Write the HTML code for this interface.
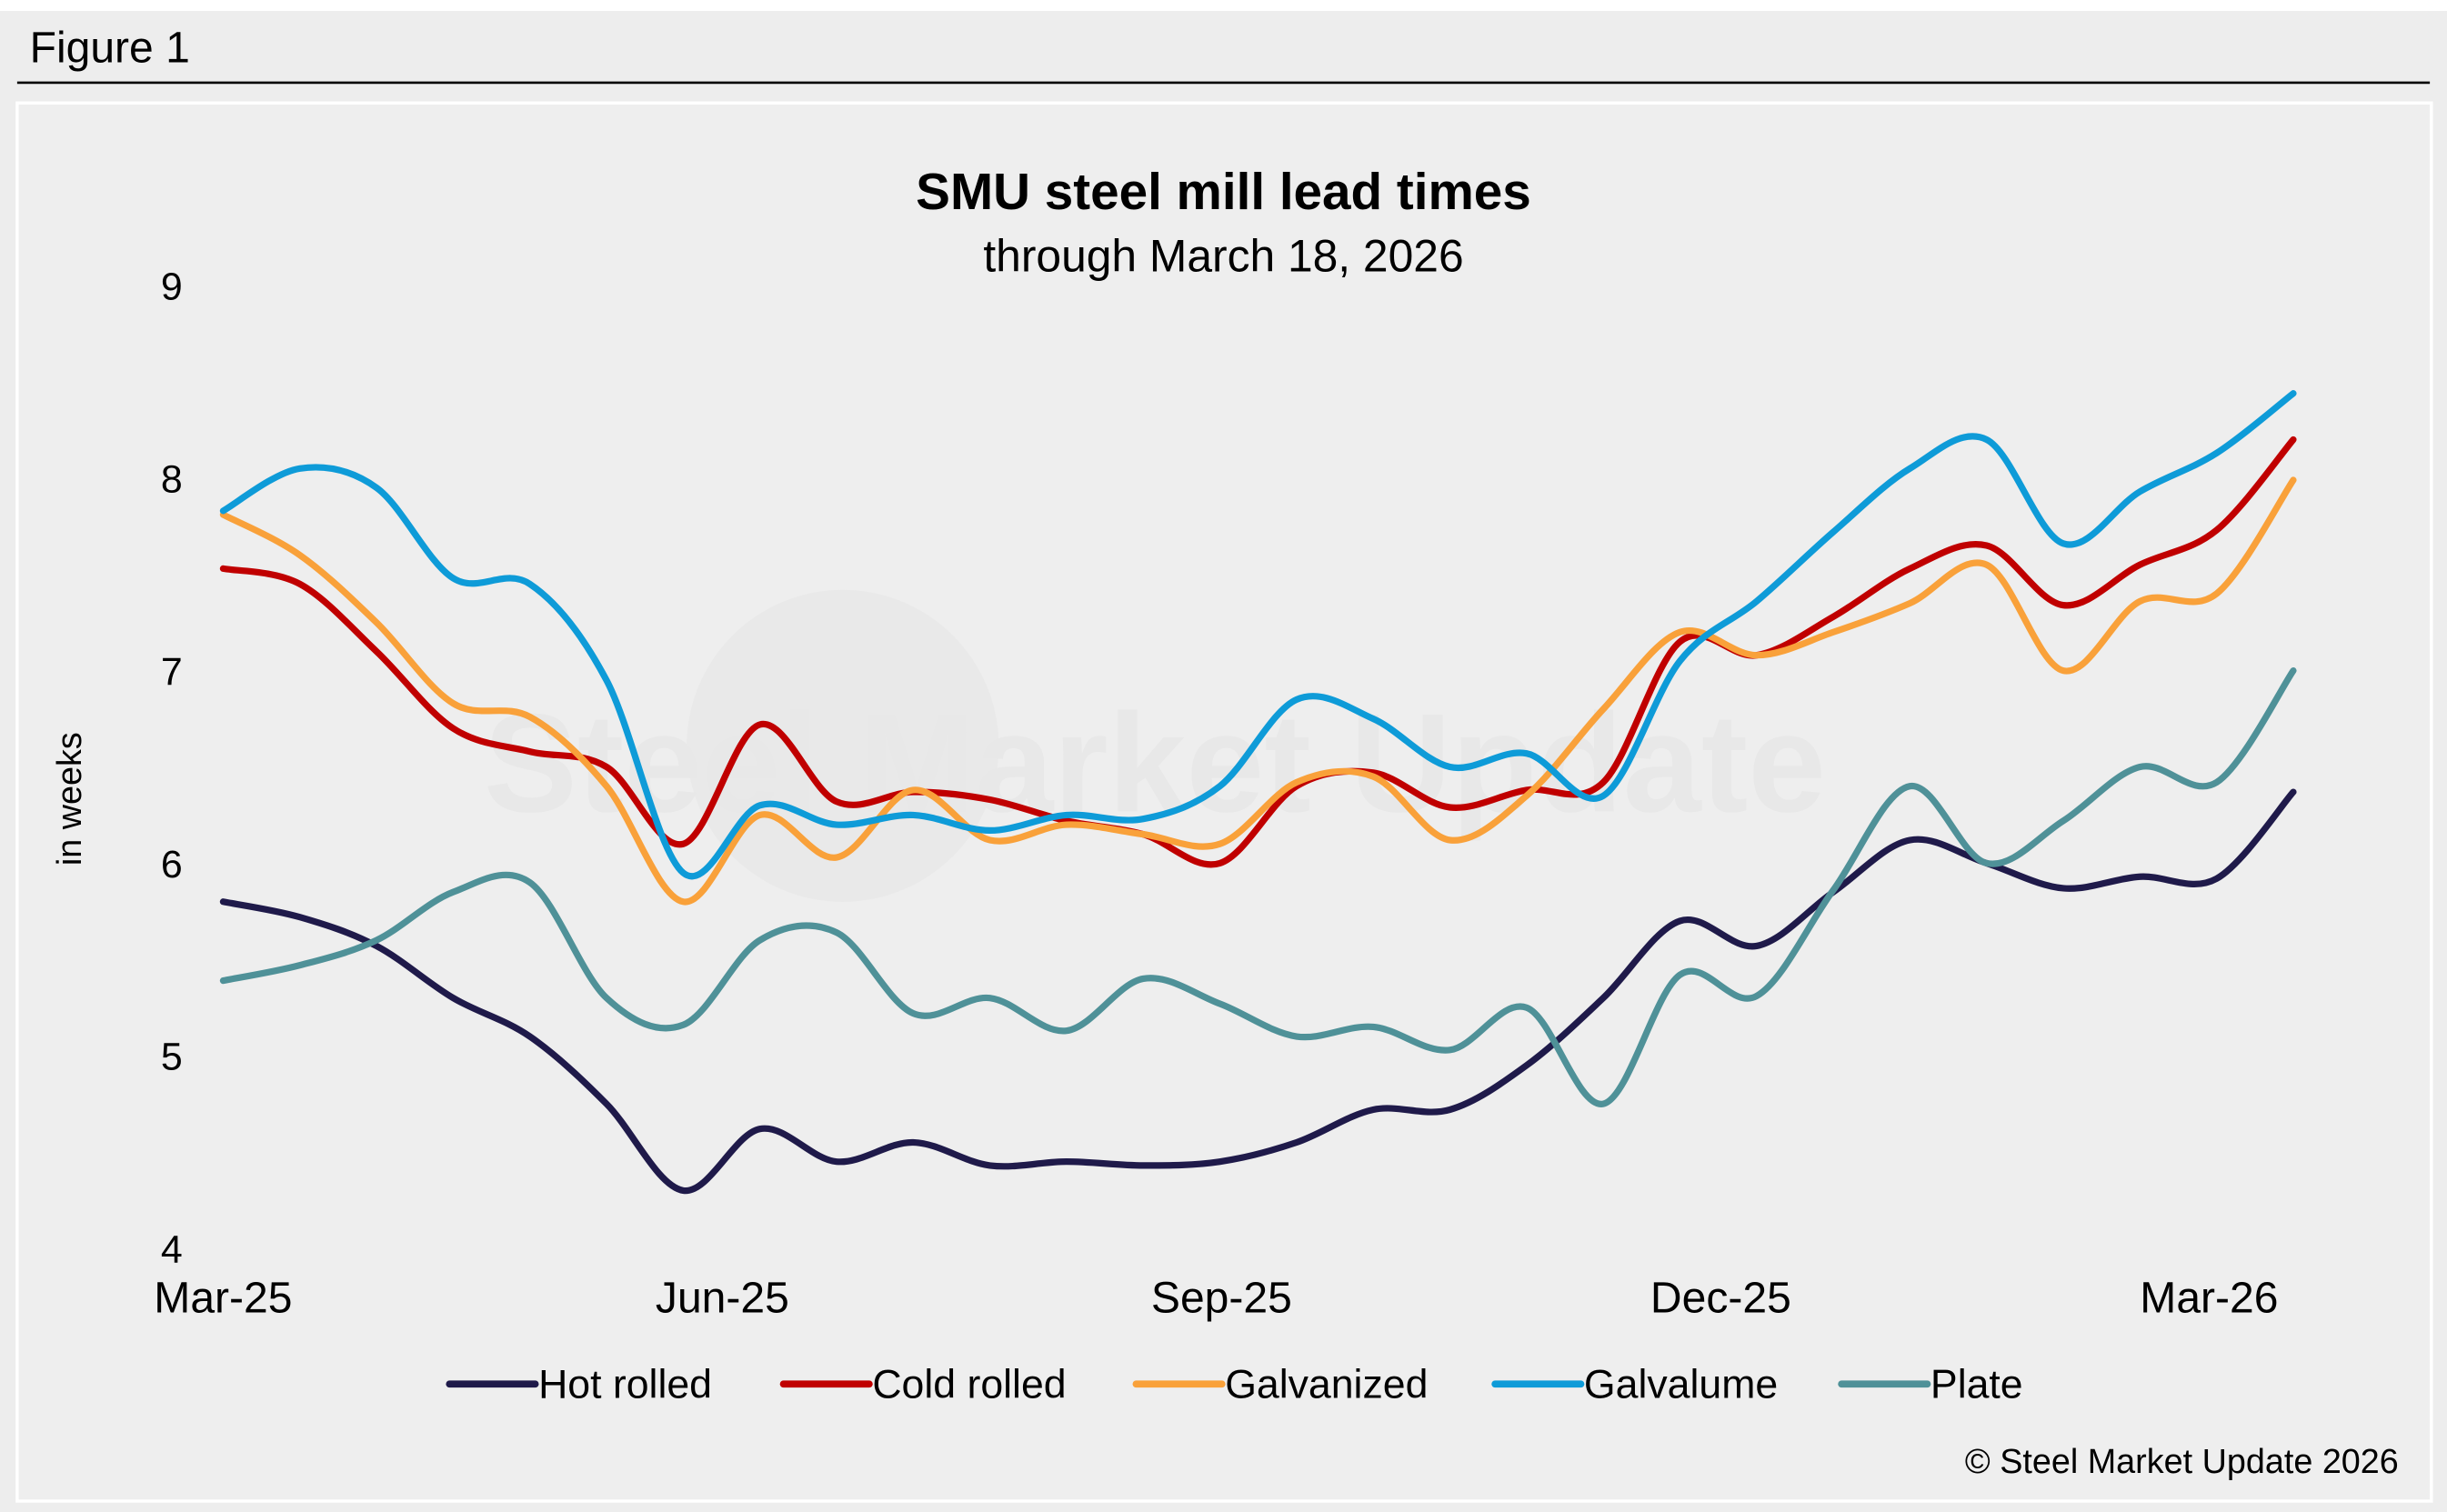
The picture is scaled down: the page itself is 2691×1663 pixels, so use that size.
<!DOCTYPE html>
<html><head><meta charset="utf-8">
<style>
html,body{margin:0;padding:0;background:#fff;}
svg{display:block;font-family:"Liberation Sans",Arial,sans-serif;}
</style></head>
<body>
<svg id="chart" width="2691" height="1663" viewBox="0 0 1568 969" preserveAspectRatio="none" xmlns="http://www.w3.org/2000/svg">
<rect x="0" y="0" width="1568" height="969" fill="#ffffff"/>
<rect x="0" y="7" width="1568" height="962" fill="#ededed"/>
<text x="19" y="40" font-size="28" fill="#000">Figure 1</text>
<line x1="11" y1="53" x2="1557" y2="53" stroke="#000" stroke-width="1.5"/>
<rect x="11" y="66" width="1547" height="896" fill="#eeeeee" stroke="#ffffff" stroke-width="2"/>
<g opacity="0.35">
<circle cx="540" cy="478" r="100" fill="#e2e2e2"/>
<text x="740" y="520" font-size="90" fill="#dddddd" text-anchor="middle" font-weight="bold">Steel Market Update</text>
</g>
<text x="784" y="134" font-size="33" font-weight="bold" text-anchor="middle" fill="#000">SMU steel mill lead times</text>
<text x="784" y="174" font-size="29" text-anchor="middle" fill="#000">through March 18, 2026</text>
<text transform="translate(52,512) rotate(-90)" font-size="22" text-anchor="middle" fill="#000">in weeks</text>
<g id="yticks"></g>
<g id="xticks"></g>
<g id="series"></g>
<g id="legend"></g>
<text x="1537" y="944" font-size="22" text-anchor="end" fill="#000">© Steel Market Update 2026</text>
</svg>
<script>
const tickLabelsX = ["Mar-25","Jun-25","Sep-25","Dec-25","Mar-26"];
const tickDaysX = [0,92,184,276,366];
const tickValuesY = [4,5,6,7,8,9];
const pointDays = Array.from({length:28},(_,i)=>i*14.13);
const seriesNames = ["Hot rolled","Cold rolled","Galvanized","Galvalume","Plate"];
const hotRolled = [5.8,5.72,5.57,5.3,5.1,4.75,4.3,4.62,4.45,4.55,4.43,4.45,4.43,4.45,4.55,4.72,4.72,4.95,5.3,5.7,5.57,5.85,6.12,6.0,5.87,5.93,5.92,6.37];
const coldRolled = [7.53,7.45,7.1,6.7,6.58,6.5,6.1,6.72,6.32,6.37,6.33,6.22,6.15,6.0,6.4,6.47,6.29,6.38,6.42,7.15,7.08,7.28,7.53,7.65,7.34,7.55,7.73,8.2];
const galvanized = [7.81,7.6,7.25,6.83,6.76,6.4,5.8,6.25,6.03,6.38,6.12,6.2,6.15,6.1,6.42,6.45,6.12,6.35,6.8,7.2,7.08,7.2,7.35,7.55,7.0,7.36,7.4,7.99];
const galvalume = [7.83,8.05,7.95,7.48,7.45,6.95,5.95,6.3,6.2,6.25,6.17,6.25,6.23,6.4,6.85,6.75,6.5,6.57,6.35,7.05,7.36,7.72,8.05,8.2,7.66,7.93,8.13,8.44];
const plate = [5.39,5.47,5.6,5.85,5.9,5.3,5.16,5.6,5.64,5.22,5.3,5.13,5.4,5.27,5.1,5.15,5.03,5.25,4.75,5.42,5.31,5.86,6.4,6.0,6.22,6.5,6.42,7.0];
const seriesData = [hotRolled,coldRolled,galvanized,galvalume,plate];
const colors = ["#1f1a4a","#c00000","#f9a13a","#0e9bd8","#4f9198"];
const slugs = ["hot-rolled","cold-rolled","galvanized","galvalume","plate"];

const NS="http://www.w3.org/2000/svg";
const x = d => 143 + d*3.477;
const y = v => 183 + (9-v)*123.4;
function mk(tag,attrs,parent){const e=document.createElementNS(NS,tag);for(const k in attrs)e.setAttribute(k,attrs[k]);parent.appendChild(e);return e;}

const yt=document.getElementById('yticks');
tickValuesY.forEach(v=>{
  const t=mk('text',{x:117,y:y(v)+9,'font-size':25,'text-anchor':'end',fill:'#000'},yt);
  
  
  t.textContent=v;
});
const xt=document.getElementById('xticks');
tickLabelsX.forEach((l,i)=>{
  const t=mk('text',{x:x(tickDaysX[i]),y:841,'font-size':28,'text-anchor':'middle',fill:'#000'},xt);
  
  
  t.textContent=l;
});

function smooth(pts){
  let d=`M${pts[0][0]},${pts[0][1]}`;
  for(let i=0;i<pts.length-1;i++){
    const p0=pts[Math.max(0,i-1)],p1=pts[i],p2=pts[i+1],p3=pts[Math.min(pts.length-1,i+2)];
    const c1x=p1[0]+(p2[0]-p0[0])/6,c1y=p1[1]+(p2[1]-p0[1])/6;
    const c2x=p2[0]-(p3[0]-p1[0])/6,c2y=p2[1]-(p3[1]-p1[1])/6;
    d+=` C${c1x},${c1y} ${c2x},${c2y} ${p2[0]},${p2[1]}`;
  }
  return d;
}
const sg=document.getElementById('series');
seriesData.forEach((arr,si)=>{
  const pts=arr.map((v,i)=>[x(pointDays[i]),y(v)]);
  const p=mk('path',{d:smooth(pts),fill:'none',stroke:colors[si],'stroke-width':4.2,'stroke-linejoin':'round','stroke-linecap':'round'},sg);
  
  
});
const lg=document.getElementById('legend');
const legX=[288,502,728,958,1180];
seriesNames.forEach((n,i)=>{
  const g=mk('g',{},lg);
  
  
  mk('line',{x1:legX[i],y1:887,x2:legX[i]+55,y2:887,stroke:colors[i],'stroke-width':4.5,'stroke-linecap':'round'},g);
  const t=mk('text',{x:legX[i]+57,y:896,'font-size':26,fill:'#000'},g);
  t.textContent=n;
});
</script>
</body></html>
